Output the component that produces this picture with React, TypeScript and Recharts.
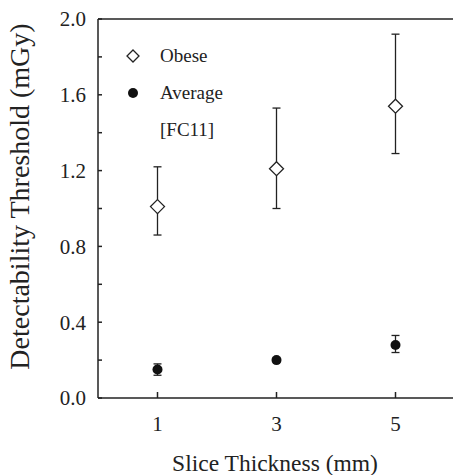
import { ScatterChart, Scatter, XAxis, YAxis, ErrorBar, Legend, Label } from 'recharts'

const SLICE_MM = [1, 3, 5]
const SERIES = ['Obese', 'Average']

const OBESE = [1.01, 1.21, 1.54]
const OBESE_LOW = [0.86, 1.0, 1.29]
const OBESE_HIGH = [1.22, 1.53, 1.92]

const AVERAGE = [0.15, 0.2, 0.28]
const AVERAGE_LOW = [0.12, 0.19, 0.24]
const AVERAGE_HIGH = [0.18, 0.21, 0.33]

const X_TICKS = [1, 3, 5]
const Y_TICKS = [0, 0.2, 0.4, 0.6, 0.8, 1.0, 1.2, 1.4, 1.6, 1.8, 2.0]
const Y_MAJOR = [0, 0.4, 0.8, 1.2, 1.6, 2.0]
const Y_LABELS = ['0.0', '', '0.4', '', '0.8', '', '1.2', '', '1.6', '', '2.0']
const CITATION = '[FC11]'

const FONT = "'Liberation Serif', 'Times New Roman', serif"
const INK = '#222'

// error bars in recharts want offsets from the value: [below, above]
const toPoints = (vals: number[], low: number[], high: number[]) =>
  SLICE_MM.map((x, i) => ({ x, y: vals[i], err: [vals[i] - low[i], high[i] - vals[i]] }))

const obeseData = toPoints(OBESE, OBESE_LOW, OBESE_HIGH)
const averageData = toPoints(AVERAGE, AVERAGE_LOW, AVERAGE_HIGH)

function diamondPath(cx: number, cy: number, r: number) {
  return `M${cx},${cy - r}L${cx + r},${cy}L${cx},${cy + r}L${cx - r},${cy}Z`
}

function Diamond({ cx, cy }: any) {
  return <path d={diamondPath(cx, cy, 7)} fill="#fff" stroke={INK} strokeWidth={1.3} />
}

function Dot({ cx, cy }: any) {
  return <circle cx={cx} cy={cy} r={5} fill="#111" />
}

function LegendBox({ payload }: any) {
  const items = SERIES.map(name => (payload ?? []).find((p: any) => p.value === name)).filter(Boolean)
  return (
    <div style={{ fontFamily: FONT, fontSize: 19, color: INK }}>
      {items.map((p: any) => (
        <div key={p.value} style={{ display: 'flex', alignItems: 'center', height: 37 }}>
          <svg width={18} height={18}>
            {p.value === 'Obese'
              ? <path d={diamondPath(9, 9, 6)} fill="#fff" stroke={INK} strokeWidth={1.3} />
              : <circle cx={9} cy={9} r={5} fill="#111" />}
          </svg>
          <span style={{ marginLeft: 18 }}>{p.value}</span>
        </div>
      ))}
      <div style={{ display: 'flex', alignItems: 'center', height: 37, paddingLeft: 36 }}>{CITATION}</div>
    </div>
  )
}

export default function App() {
  return (
    <div style={{ position: 'absolute', left: 0, top: 0, width: 453, height: 475, overflow: 'hidden', background: '#fff' }}>
      <ScatterChart
        width={460}
        height={475}
        margin={{ top: 18, right: 3, bottom: 0, left: 0 }}
        style={{ fontFamily: FONT }}
      >
        <XAxis
          xAxisId="b"
          dataKey="x"
          type="number"
          domain={[0, 6]}
          ticks={X_TICKS}
          height={77}
          tickSize={-6}
          tickMargin={24}
          stroke={INK}
          strokeWidth={1.5}
          tick={{ fill: INK, fontSize: 21, fontFamily: FONT }}
        >
          <Label
            content={({ viewBox }: any) => (
              <text
                x={viewBox.x + viewBox.width / 2 - 1.5}
                y={viewBox.y + 73}
                textAnchor="middle"
                fontSize={23.5}
                fontFamily={FONT}
                fill={INK}
              >
                Slice Thickness (mm)
              </text>
            )}
          />
        </XAxis>
        <XAxis
          xAxisId="t"
          orientation="top"
          type="number"
          domain={[0, 6]}
          ticks={X_TICKS}
          height={1}
          tickSize={-5}
          tick={false}
          stroke={INK}
          strokeWidth={1.5}
        />
        <YAxis
          yAxisId="l"
          dataKey="y"
          type="number"
          domain={[0, 2]}
          ticks={Y_TICKS}
          interval={0}
          width={98}
          tickSize={-4}
          tickMargin={16}
          tickFormatter={(_v: number, i: number) => Y_LABELS[i]}
          stroke={INK}
          strokeWidth={1.5}
          tick={{ fill: INK, fontSize: 21, fontFamily: FONT }}
        >
          <Label
            content={({ viewBox }: any) => {
              const cx = 29
              const cy = viewBox.y + viewBox.height / 2 - 12
              return (
                <text
                  x={cx}
                  y={cy}
                  transform={`rotate(-90, ${cx}, ${cy})`}
                  textAnchor="middle"
                  fontSize={28}
                  fontFamily={FONT}
                  fill={INK}
                >
                  Detectability Threshold (mGy)
                </text>
              )
            }}
          />
        </YAxis>
        {/* right frame: short ticks every 0.2, longer ones every 0.4 */}
        <YAxis
          yAxisId="rMinor"
          orientation="right"
          type="number"
          domain={[0, 2]}
          ticks={Y_TICKS}
          interval={0}
          width={1}
          tickSize={-4}
          tick={false}
          stroke={INK}
          strokeWidth={1.5}
        />
        <YAxis
          yAxisId="rMajor"
          orientation="right"
          type="number"
          domain={[0, 2]}
          ticks={Y_MAJOR}
          interval={0}
          width={1}
          tickSize={-8}
          tick={false}
          stroke={INK}
          strokeWidth={1.5}
        />
        <Legend
          layout="vertical"
          align="center"
          verticalAlign="middle"
          content={<LegendBox />}
          wrapperStyle={{ top: 37, left: 124, width: 'auto' }}
        />
        <Scatter
          name="Obese"
          data={obeseData}
          xAxisId="b"
          yAxisId="l"
          shape={<Diamond />}
          isAnimationActive={false}
        >
          <ErrorBar dataKey="err" direction="y" width={4} stroke={INK} strokeWidth={1.3} />
        </Scatter>
        <Scatter
          name="Average"
          data={averageData}
          xAxisId="b"
          yAxisId="l"
          shape={<Dot />}
          isAnimationActive={false}
        >
          <ErrorBar dataKey="err" direction="y" width={4} stroke={INK} strokeWidth={1.3} />
        </Scatter>
      </ScatterChart>
    </div>
  )
}
